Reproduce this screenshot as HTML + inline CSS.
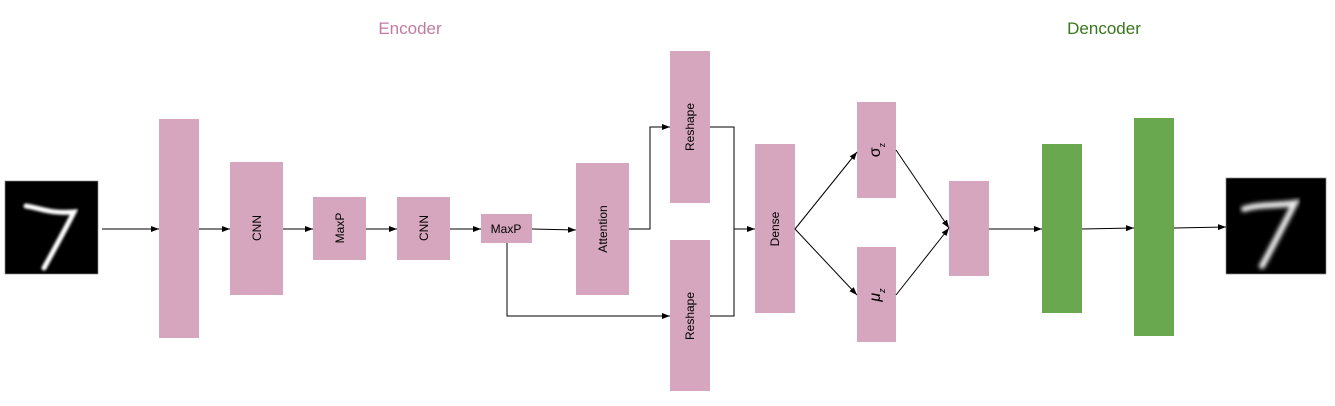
<!DOCTYPE html>
<html><head><meta charset="utf-8"><style>
html,body{margin:0;padding:0;background:#fff;}
svg{display:block;}
text{font-family:"Liberation Sans",sans-serif;}
</style></head><body>
<svg width="1335" height="406" viewBox="0 0 1335 406" xmlns="http://www.w3.org/2000/svg">
<defs>
<marker id="a" markerWidth="8" markerHeight="6" refX="8" refY="3" orient="auto" markerUnits="userSpaceOnUse"><path d="M0,0 L8,3 L0,6 z" fill="#000"/></marker>
<filter id="b1"><feGaussianBlur stdDeviation="1.2"/></filter>
<filter id="b2"><feGaussianBlur stdDeviation="2.2"/></filter>
</defs>
<text x="410" y="34" font-size="17" fill="#c27ba0" text-anchor="middle">Encoder</text>
<text x="1104" y="34" font-size="17" fill="#38761d" text-anchor="middle">Dencoder</text>

<!-- input image -->
<rect x="5" y="181" width="93" height="93" fill="#000" stroke="#888" stroke-width="0.7"/>
<path d="M26,206 C40,208 50,214 74,212 C66,228 55,248 44,268" stroke="#fff" stroke-width="5" fill="none" stroke-linecap="round" filter="url(#b1)"/>
<!-- output image -->
<rect x="1226" y="178" width="100" height="96" fill="#000" stroke="#888" stroke-width="0.7"/>
<path d="M1244,209 C1260,204 1275,206 1295,203 C1284,224 1272,248 1262,266" stroke="#eee" stroke-width="6" fill="none" stroke-linecap="round" filter="url(#b2)"/>

<g fill="#d5a6bd">
<rect x="159" y="119" width="40" height="219"/>
<rect x="230" y="162" width="53" height="133"/>
<rect x="313" y="197" width="53" height="63"/>
<rect x="397" y="197" width="53" height="63"/>
<rect x="481" y="214" width="51" height="29"/>
<rect x="576" y="163" width="53" height="132"/>
<rect x="670" y="51" width="40" height="152"/>
<rect x="670" y="240" width="40" height="151"/>
<rect x="755" y="144" width="40" height="169"/>
<rect x="857" y="102" width="39" height="96"/>
<rect x="857" y="247" width="39" height="95"/>
<rect x="949" y="181" width="40" height="95"/>
</g>
<g fill="#6aa84f">
<rect x="1042" y="144" width="40" height="169"/>
<rect x="1134" y="118" width="40" height="218"/>
</g>

<g font-size="12" fill="#000" text-anchor="middle">
<text transform="translate(261,228) rotate(-90)">CNN</text>
<text transform="translate(344,228) rotate(-90)">MaxP</text>
<text transform="translate(428,228) rotate(-90)">CNN</text>
<text x="506" y="233">MaxP</text>
<text transform="translate(607,229) rotate(-90)">Attention</text>
<text transform="translate(694,127) rotate(-90)">Reshape</text>
<text transform="translate(694,316) rotate(-90)">Reshape</text>
<text transform="translate(779,229) rotate(-90)">Dense</text>
<text transform="translate(880,150) rotate(-90)" font-size="16">σ<tspan font-size="9" dy="5">z</tspan></text>
<text transform="translate(880,295) rotate(-90)" font-size="16" font-style="italic">μ<tspan font-size="9" dy="5">z</tspan></text>
</g>

<g stroke="#000" stroke-width="1" fill="none">
<line x1="102" y1="229" x2="159" y2="229" marker-end="url(#a)"/>
<line x1="199" y1="229" x2="230" y2="229" marker-end="url(#a)"/>
<line x1="283" y1="229" x2="313" y2="229" marker-end="url(#a)"/>
<line x1="366" y1="229" x2="397" y2="229" marker-end="url(#a)"/>
<line x1="450" y1="229" x2="481" y2="229" marker-end="url(#a)"/>
<line x1="532" y1="229" x2="576" y2="230" marker-end="url(#a)"/>
<polyline points="629,229 650,229 650,127 670,127" marker-end="url(#a)"/>
<polyline points="507,243 507,316 670,316" marker-end="url(#a)"/>
<polyline points="710,127 734,127 734,316 710,316"/>
<line x1="734" y1="229" x2="755" y2="229" marker-end="url(#a)"/>
<line x1="795" y1="229" x2="857" y2="152" marker-end="url(#a)"/>
<line x1="795" y1="229" x2="857" y2="295" marker-end="url(#a)"/>
<line x1="896" y1="150" x2="949" y2="228" marker-end="url(#a)"/>
<line x1="896" y1="295" x2="949" y2="228" marker-end="url(#a)"/>
<line x1="989" y1="229" x2="1042" y2="229" marker-end="url(#a)"/>
<line x1="1082" y1="229" x2="1134" y2="228" marker-end="url(#a)"/>
<line x1="1174" y1="228" x2="1226" y2="227" marker-end="url(#a)"/>
</g>
</svg>
</body></html>
